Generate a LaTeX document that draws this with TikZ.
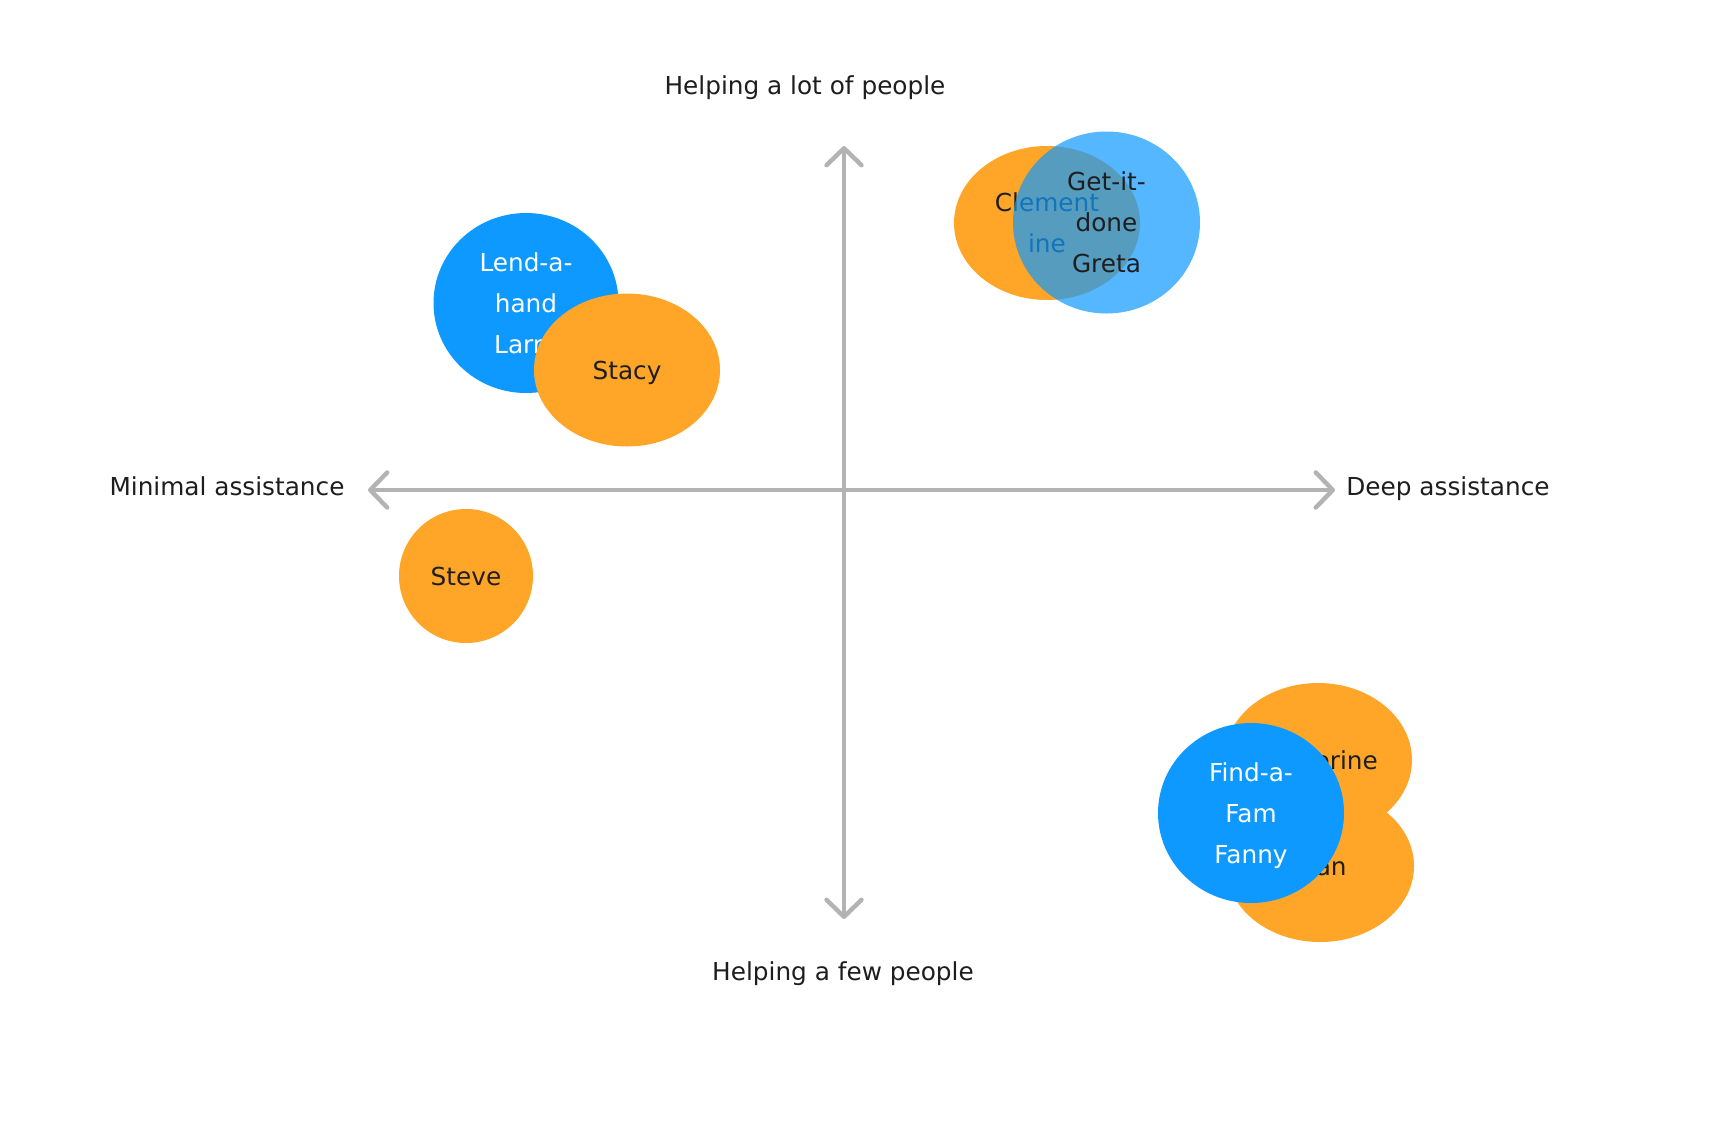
\documentclass[tikz,border=0pt]{standalone}
\usepackage{fontspec}
\setmainfont{DejaVu Sans}
\usetikzlibrary{shapes.geometric,arrows.meta}
\definecolor{orng}{HTML}{FFA629}
\definecolor{blu}{HTML}{0D99FF}
\definecolor{axisgray}{HTML}{B3B3B3}
\definecolor{ink}{HTML}{1E1E1E}
\tikzset{
  lbl/.style={font=\fontsize{24.75}{41}\selectfont, text=ink, inner sep=0pt, text depth=0pt},
  bub/.style={ellipse, inner sep=0pt, align=center, text depth=0pt, font=\fontsize{24.75}{41}\selectfont},
  obub/.style={bub, fill=orng, text=ink},
  bbub/.style={bub, fill=blu, text=white},
  lbub/.style={bub, fill=blu, fill opacity=0.7, text opacity=1, text=ink},
  axis/.style={draw=axisgray, line width=4.4pt, line cap=round,
    {Straight Barb[length=17pt,width=35pt,line cap=round,line join=round]}-{Straight Barb[length=17pt,width=35pt,line cap=round,line join=round]}}
}
\begin{document}
\begin{tikzpicture}[x=1pt,y=-1pt]
\useasboundingbox[fill=white] (0,0) rectangle (1726,1144);
% axes
\coordinate (vtop) at (844,146);
\coordinate (vbot) at (844,919);
\coordinate (hleft) at (368,490);
\coordinate (hright) at (1335,490);
\draw[axis] (vbot) -- (vtop);
\draw[axis] (hleft) -- (hright);
% axis labels
\node[lbl] (ltop) at (805,85) {Helping a lot of people};
\node[lbl] (lbot) at (843,971) {Helping a few people};
\node[lbl] (lleft) at (227,486) {Minimal assistance};
\node[lbl] (lright) at (1448,486) {Deep assistance};
% top-left cluster
\node[bbub, minimum width=185pt, minimum height=180pt] (larry) at (526,303) {Lend-a-\\hand\\Larry};
\node[obub, minimum width=186pt, minimum height=153pt] (stacy) at (627,370) {Stacy};
% Steve
\node[obub, minimum width=134pt, minimum height=134pt] (steve) at (466,576) {Steve};
% top-right cluster
\node[obub, minimum width=186pt, minimum height=154pt] (clem) at (1047,223) {Clement\\ine};
\node[lbub, minimum width=187pt, minimum height=182pt] (greta) at (1106.5,222.5) {Get-it-\\done\\Greta};
% bottom-right cluster
\node[obub, minimum width=188pt, minimum height=154pt] (kath) at (1318,760) {Katherine};
\node[obub, minimum width=188pt, minimum height=152pt] (joan) at (1320,866) {Joan};
\node[bbub, minimum width=186pt, minimum height=180pt] (fanny) at (1251,813) {Find-a-\\Fam\\Fanny};
\end{tikzpicture}
\end{document}
